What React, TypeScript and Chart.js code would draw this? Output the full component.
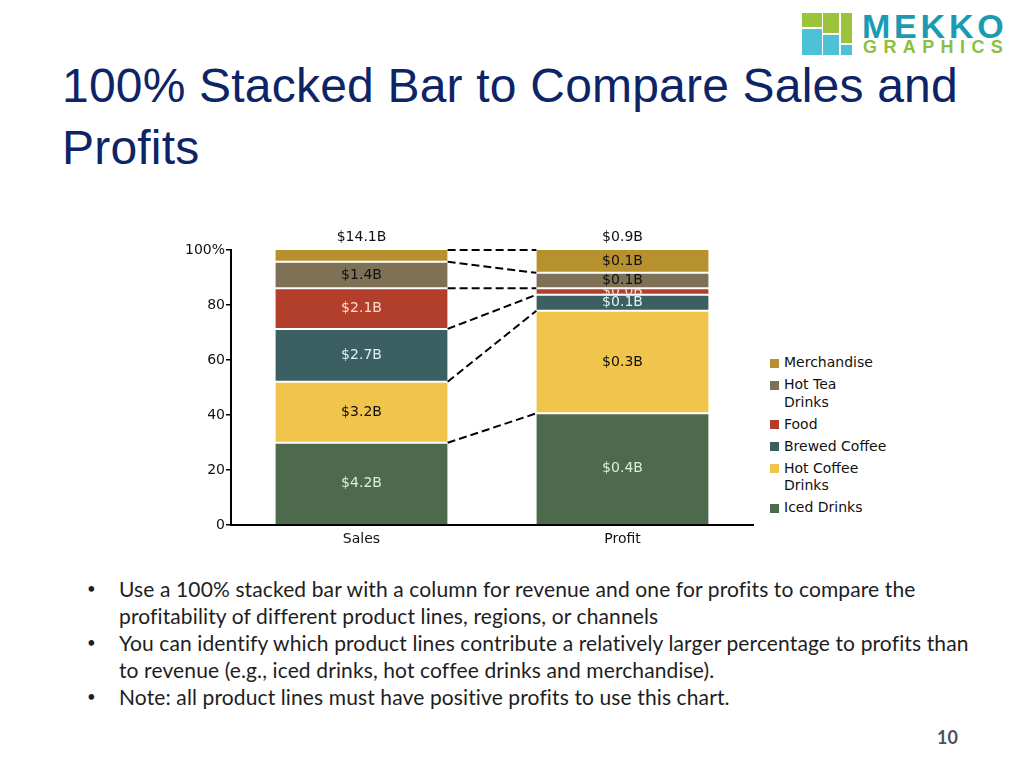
import React, { useEffect, useRef } from "react";
import { Chart, registerables } from "chart.js";

Chart.register(...registerables);

// ---- Data (percent share of each column) ----
const categories = ["Sales", "Profit"];
const columnTotals = ["$14.1B", "$0.9B"];

// stacked bottom -> top
const seriesNames = ["Iced Drinks", "Hot Coffee Drinks", "Brewed Coffee", "Food", "Hot Tea Drinks", "Merchandise"];
const icedDrinks = [29.9, 40.6];
const hotCoffeeDrinks = [22.2, 37.3];
const brewedCoffee = [19.2, 5.8];
const food = [14.8, 2.4];
const hotTeaDrinks = [9.6, 5.6];
const merchandise = [4.3, 8.3];

// segment value labels
const icedLabels = ["$4.2B", "$0.4B"];
const hotCoffeeLabels = ["$3.2B", "$0.3B"];
const brewedLabels = ["$2.7B", "$0.1B"];
const foodLabels = ["$2.1B", "$0.0B"];
const hotTeaLabels = ["$1.4B", "$0.1B"];
const merchLabels = [null, "$0.1B"];

const yTickValues = [0, 20, 40, 60, 80, 100];

// legend text as wrapped in the picture (same order as seriesNames)
const legendLines = [["Iced Drinks"], ["Hot Coffee", "Drinks"], ["Brewed Coffee"], ["Food"], ["Hot Tea", "Drinks"], ["Merchandise"]];

const seriesColors = ["#4d6a4c", "#f1c44b", "#3c5f63", "#b23f2b", "#7e7156", "#b8912f"];
const labelColors = ["#dcefd6", "#111111", "#dff2f2", "#fbdcd2", "#111111", "#111111"];

const seriesValues = [icedDrinks, hotCoffeeDrinks, brewedCoffee, food, hotTeaDrinks, merchandise];
const seriesLabels = [icedLabels, hotCoffeeLabels, brewedLabels, foodLabels, hotTeaLabels, merchLabels];

const FONT = "DejaVu Sans";

const overlayPlugin = {
  id: "overlay",
  afterDatasetsDraw(chart: any) {
    const ctx = chart.ctx;
    const n = chart.data.datasets.length;
    // dashed connectors between the two columns at each segment boundary
    ctx.save();
    ctx.setLineDash([8, 4]);
    ctx.lineWidth = 2;
    ctx.strokeStyle = "#000";
    for (let i = 0; i < n; i++) {
      const meta = chart.getDatasetMeta(i);
      const a = meta.data[0].getProps(["x", "y", "width"], true);
      const b = meta.data[1].getProps(["x", "y", "width"], true);
      ctx.beginPath();
      ctx.moveTo(a.x + a.width / 2, a.y);
      ctx.lineTo(b.x - b.width / 2, b.y);
      ctx.stroke();
    }
    ctx.restore();

    // segment labels
    for (let i = 0; i < n; i++) {
      const meta = chart.getDatasetMeta(i);
      meta.data.forEach((el: any, j: number) => {
        const text = seriesLabels[i][j];
        if (!text) return;
        const p = el.getProps(["x", "y", "base", "width"], true);
        const top = Math.min(p.y, p.base);
        const h = Math.abs(p.base - p.y);
        ctx.save();
        ctx.beginPath();
        ctx.rect(p.x - p.width / 2, top + 1, p.width, h - 2);
        ctx.clip();
        ctx.fillStyle = labelColors[i];
        ctx.font = `14px "${FONT}"`;
        ctx.textAlign = "center";
        ctx.textBaseline = "middle";
        ctx.fillText(text, p.x, top + h / 2);
        ctx.restore();
      });
    }

    // column totals above the bars
    const topMeta = chart.getDatasetMeta(n - 1);
    ctx.save();
    ctx.fillStyle = "#111";
    ctx.font = `14px "${FONT}"`;
    ctx.textAlign = "center";
    ctx.textBaseline = "middle";
    topMeta.data.forEach((el: any, j: number) => {
      const p = el.getProps(["x", "y"], true);
      ctx.fillText(columnTotals[j], p.x, p.y - 13);
    });
    ctx.restore();
  },
};

function StackChart() {
  const ref = useRef<HTMLCanvasElement | null>(null);
  useEffect(() => {
    if (!ref.current) return;
    const n = seriesNames.length;
    const chart = new Chart(ref.current, {
      type: "bar",
      data: {
        labels: categories,
        datasets: seriesNames.map((name, i) => ({
          label: name,
          data: seriesValues[i],
          backgroundColor: seriesColors[i],
          borderColor: "#ffffff",
          borderWidth: { top: i === n - 1 ? 0 : 1, bottom: i === 0 ? 0 : 1, left: 0, right: 0 },
          borderSkipped: false,
          barPercentage: 0.66,
          categoryPercentage: 1,
        })),
      },
      options: {
        responsive: false,
        animation: false,
        layout: { padding: { top: 50, right: 17, left: 0, bottom: 0 } },
        plugins: { legend: { display: false }, tooltip: { enabled: false } },
        scales: {
          x: {
            stacked: true,
            grid: { display: false, drawTicks: false },
            border: { display: true, color: "#000", width: 2 },
            ticks: { color: "#111", font: { family: FONT, size: 14 }, padding: 6 },
            afterFit: (s: any) => {
              s.height = 35;
            },
          },
          y: {
            stacked: true,
            min: 0,
            max: 100,
            afterBuildTicks: (s: any) => {
              s.ticks = yTickValues.map((v) => ({ value: v }));
            },
            grid: { drawOnChartArea: false, drawTicks: true, tickLength: 5, color: "#000", lineWidth: 1.5 },
            border: { display: true, color: "#000", width: 2 },
            ticks: {
              color: "#111",
              font: { family: FONT, size: 14 },
              padding: 1,
              callback: (v: any) => (Number(v) === 100 ? "100%" : String(v)),
            },
            afterFit: (s: any) => {
              s.width = 61;
            },
          },
        },
      },
      plugins: [overlayPlugin],
    });
    return () => chart.destroy();
  }, []);
  return (
    <canvas
      ref={ref}
      width={600}
      height={360}
      style={{ position: "absolute", left: 170, top: 200, width: 600, height: 360 }}
    />
  );
}

const legendOrder = [5, 4, 3, 2, 1, 0];

const bullets = [
  ["Use a 100% stacked bar with a column for revenue and one for profits to compare the", "profitability of different product lines, regions, or channels"],
  ["You can identify which product lines contribute a relatively larger percentage to profits than", "to revenue (e.g., iced drinks, hot coffee drinks and merchandise)."],
  ["Note: all product lines must have positive profits to use this chart."],
];

export default function App() {
  return (
    <div style={{ position: "absolute", left: 0, top: 0, width: 1024, height: 768, background: "#fff", overflow: "hidden" }}>
      {/* Logo */}
      <div style={{ position: "absolute", left: 802, top: 13, width: 20, height: 14, background: "#9bc43c" }} />
      <div style={{ position: "absolute", left: 823, top: 13, width: 16, height: 20, background: "#9bc43c" }} />
      <div style={{ position: "absolute", left: 841, top: 13, width: 11, height: 30, background: "#9bc43c" }} />
      <div style={{ position: "absolute", left: 802, top: 29, width: 20, height: 26, background: "#4fc1d7" }} />
      <div style={{ position: "absolute", left: 823, top: 35, width: 16, height: 20, background: "#4fc1d7" }} />
      <div style={{ position: "absolute", left: 841, top: 45, width: 11, height: 10, background: "#4fc1d7" }} />
      <div style={{ position: "absolute", left: 862, top: 8.6, fontFamily: "Liberation Sans", fontWeight: 700, fontSize: 34, lineHeight: 1, letterSpacing: 3.8, color: "#1b9bb3", whiteSpace: "nowrap" }}>MEKKO</div>
      <div style={{ position: "absolute", left: 863, top: 37.7, fontFamily: "Liberation Sans", fontWeight: 700, fontSize: 18, lineHeight: 1, letterSpacing: 6.4, color: "#8cbf3f", whiteSpace: "nowrap" }}>GRAPHICS</div>

      {/* Title */}
      <div style={{ position: "absolute", left: 62, top: 55, fontFamily: "Liberation Sans", fontSize: 48, lineHeight: "62px", letterSpacing: 0.2, color: "#0d2466", whiteSpace: "nowrap" }}>
        100% Stacked Bar to Compare Sales and
        <br />
        Profits
      </div>

      <StackChart />

      {/* Legend */}
      <div style={{ position: "absolute", left: 770, top: 354, fontFamily: FONT, fontSize: 14, color: "#111" }}>
        {legendOrder.map((i) => (
          <div key={i} style={{ display: "flex", alignItems: "flex-start", marginBottom: 4.5 }}>
            <div style={{ width: 9, height: 9, marginTop: 4.5, marginRight: 5, background: seriesColors[i], flex: "none" }} />
            <div style={{ lineHeight: "17.5px", whiteSpace: "nowrap" }}>
              {legendLines[i].map((l, m) => (
                <div key={m}>{l}</div>
              ))}
            </div>
          </div>
        ))}
      </div>

      {/* Bullets */}
      <div style={{ position: "absolute", left: 84, top: 575, fontFamily: "Lato", fontSize: 21, lineHeight: "27px", letterSpacing: 0.12, color: "#1e1e1e" }}>
        {bullets.map((lines, k) => (
          <div key={k} style={{ position: "relative", paddingLeft: 35, whiteSpace: "nowrap" }}>
            <span style={{ position: "absolute", left: 3, top: 0, fontSize: 15 }}>•</span>
            {lines.map((l, m) => (
              <div key={m}>{l}</div>
            ))}
          </div>
        ))}
      </div>

      {/* Page number */}
      <div style={{ position: "absolute", left: 937, top: 726, fontFamily: "Lato", fontWeight: 700, fontSize: 18, lineHeight: "22px", color: "#4f4f5e" }}>10</div>
    </div>
  );
}
